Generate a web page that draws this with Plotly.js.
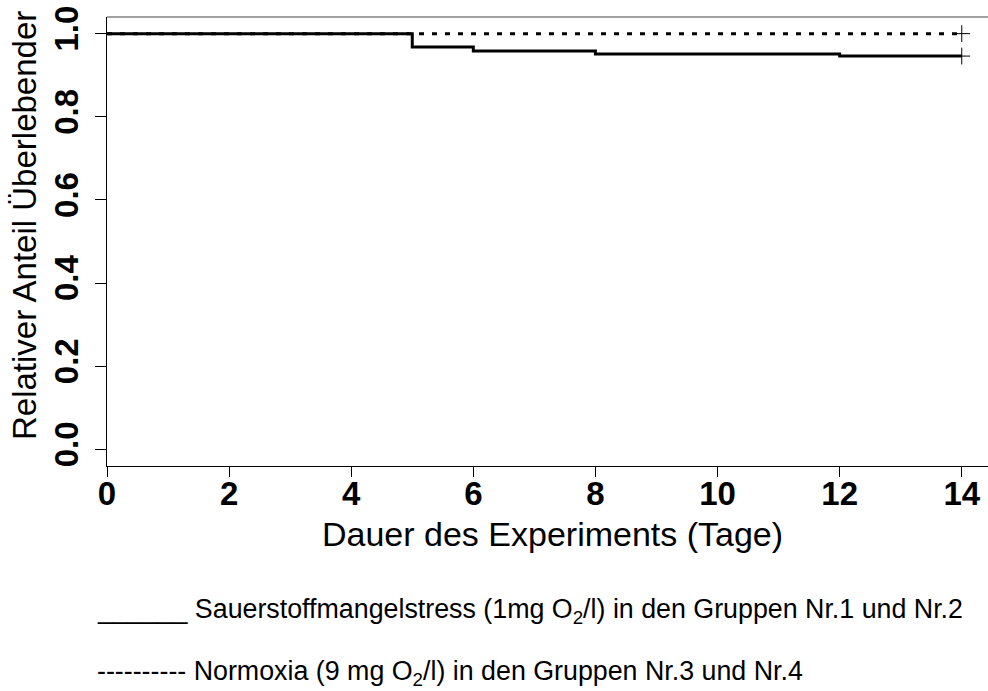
<!DOCTYPE html>
<html>
<head>
<meta charset="utf-8">
<script src="https://cdn.plot.ly/plotly-3.0.1.min.js"></script>
<style>html,body{margin:0;padding:0;background:#fff;}</style>
</head>
<body>
<div id="chart" style="width:988px;height:691px;"></div>
<script>
// Data
const daysHypoxia = [0, 5, 6, 8, 12, 14];
const survHypoxia = [1.0, 0.968, 0.958, 0.951, 0.946, 0.946];
const daysNormoxia = [0, 14];
const survNormoxia = [1.0, 1.0];
const censorDay = [14];
const censorHypoxia = [0.946];
const censorNormoxia = [1.0];
const xTicks = [0, 2, 4, 6, 8, 10, 12, 14];
const yTicks = [0.0, 0.2, 0.4, 0.6, 0.8, 1.0];
const yTickText = ["0.0", "0.2", "0.4", "0.6", "0.8", "1.0"];
const xTitle = "Dauer des Experiments (Tage)";
const yTitle = "Relativer Anteil Überlebender";
const legend1 = "______ Sauerstoffmangelstress (1mg O<sub>2</sub>/l) in den Gruppen Nr.1 und Nr.2";
const legend2 = "---------- Normoxia (9 mg O<sub>2</sub>/l) in den Gruppen Nr.3 und Nr.4";

const FONT = "Liberation Sans, Arial, sans-serif";
const PLOT_H = 449, PLOT_W = 881, TOP = 17, LEFT = 107;
const px2x = p => (p - LEFT) / PLOT_W;
const py2y = p => (TOP + PLOT_H - p) / PLOT_H;

const traces = [
  {x: daysNormoxia, y: survNormoxia, mode: "lines", line: {shape: "hv", color: "#000", width: 3, dash: "5px,8px"}, hoverinfo: "skip", showlegend: false},
  {x: daysHypoxia, y: survHypoxia, mode: "lines", line: {shape: "hv", color: "#000", width: 3}, hoverinfo: "skip", showlegend: false},
  {x: censorDay, y: censorNormoxia, mode: "markers", marker: {symbol: "cross-thin-open", size: 12, color: "#000", line: {color: "#000", width: 1}}, showlegend: false, cliponaxis: false},
  {x: censorDay, y: censorHypoxia, mode: "markers", marker: {symbol: "cross-thin-open", size: 12, color: "#000", line: {color: "#000", width: 1}}, showlegend: false, cliponaxis: false}
];

const layout = {
  width: 988, height: 691,
  margin: {l: LEFT, r: 0, t: TOP, b: 691 - TOP - PLOT_H},
  paper_bgcolor: "#fff", plot_bgcolor: "#fff",
  showlegend: false,
  xaxis: {
    range: [0, 14.43], tickmode: "array", tickvals: xTicks, ticktext: xTicks.map(String),
    showgrid: false, zeroline: false, showline: true, linecolor: "#000", linewidth: 1,
    ticks: "outside", ticklen: 10, tickcolor: "#000", tickwidth: 1,
    tickfont: {family: FONT, size: 33, color: "#000", weight: "bold"},
    ticklabelstandoff: -12
  },
  yaxis: {
    range: [-0.04, 1.04], tickmode: "array", tickvals: yTicks, ticktext: yTickText,
    showgrid: false, zeroline: false, showline: true, linecolor: "#000", linewidth: 1,
    ticks: "outside", ticklen: 11, tickcolor: "#000", tickwidth: 1, tickangle: -90,
    tickfont: {family: FONT, size: 33, color: "#000", weight: "bold"},
    ticklabelstandoff: 4
  },
  shapes: [
    {type: "line", xref: "paper", yref: "paper", x0: 0, x1: 1, y0: 1, y1: 1, line: {color: "#444", width: 1}}
  ],
  annotations: [
    {text: xTitle, xref: "paper", yref: "paper", x: px2x(552), y: py2y(534), xanchor: "center", yanchor: "middle", showarrow: false, font: {family: FONT, size: 34, color: "#000"}},
    {text: yTitle, xref: "paper", yref: "paper", x: px2x(25), y: py2y(226), xanchor: "center", yanchor: "middle", textangle: -90, showarrow: false, font: {family: FONT, size: 33, color: "#000"}},
    {text: legend1, xref: "paper", yref: "paper", x: px2x(95), y: py2y(611), xanchor: "left", yanchor: "middle", showarrow: false, font: {family: FONT, size: 26.8, color: "#000"}},
    {text: legend2, xref: "paper", yref: "paper", x: px2x(95), y: py2y(673), xanchor: "left", yanchor: "middle", showarrow: false, font: {family: FONT, size: 26.8, color: "#000"}}
  ]
};

Plotly.newPlot("chart", traces, layout, {staticPlot: true, displayModeBar: false});
</script>
</body>
</html>
